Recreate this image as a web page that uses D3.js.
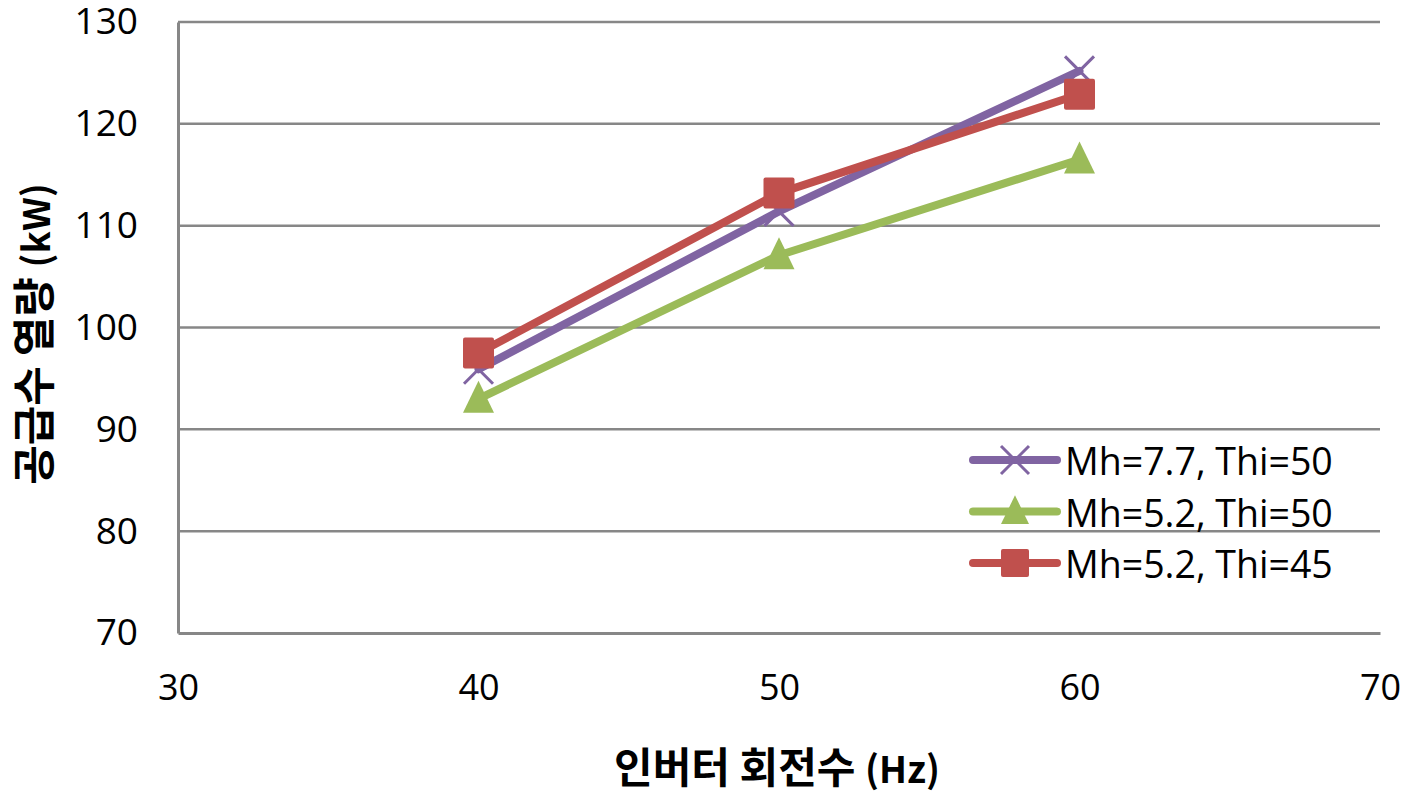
<!DOCTYPE html>
<html>
<head>
<meta charset="utf-8">
<script src="https://cdn.jsdelivr.net/npm/d3@7"></script>
<style>
  body { margin: 0; background: #fff; }
  svg { display: block; }
</style>
</head>
<body>
<div id="chart"></div>
<script>
// data
var hz = [40, 50, 60];
var mh77thi50 = [95.9, 111.4, 125.2];
var mh52thi50 = [93.0, 107.1, 116.5];
var mh52thi45 = [97.5, 113.2, 122.9];
var seriesNames = ['Mh=7.7, Thi=50', 'Mh=5.2, Thi=50', 'Mh=5.2, Thi=45'];
var xTicks = [30, 40, 50, 60, 70];
var yTicks = [70, 80, 90, 100, 110, 120, 130];

var W = 1403, H = 800;
var margin = {top: 22, right: 23, bottom: 167, left: 178};
var width = W - margin.left - margin.right,
    height = H - margin.top - margin.bottom;

var svg = d3.select('#chart').append('svg')
    .attr('width', W)
    .attr('height', H);

var g = svg.append('g')
    .attr('transform', 'translate(' + margin.left + ',' + margin.top + ')');

var x = d3.scaleLinear().domain([30, 70]).range([0, width]);
var y = d3.scaleLinear().domain([70, 130]).range([height, 0]);

// gridlines
g.selectAll('.grid')
    .data(yTicks.slice(1))
    .enter().append('line')
    .attr('x1', 0).attr('x2', width)
    .attr('y1', function(d) { return y(d); })
    .attr('y2', function(d) { return y(d); })
    .attr('stroke', '#878787')
    .attr('stroke-width', 2.5);

// axes
var yAxis = g.append('g')
    .call(d3.axisLeft(y).tickValues(yTicks).tickSize(0).tickPadding(40));
yAxis.select('.domain').attr('stroke', '#878787').attr('stroke-width', 3);
yAxis.selectAll('text')
    .attr('font-family', 'Open Sans, Noto Sans, sans-serif')
    .attr('font-size', '37px')
    .attr('fill', '#000');

var xAxis = g.append('g')
    .attr('transform', 'translate(0,' + height + ')')
    .call(d3.axisBottom(x).tickValues(xTicks).tickSize(0).tickPadding(41));
xAxis.select('.domain').attr('stroke', '#878787').attr('stroke-width', 3);
xAxis.selectAll('text')
    .attr('font-family', 'Open Sans, Noto Sans, sans-serif')
    .attr('font-size', '36px')
    .attr('fill', '#000');

// axis titles
var yTitle = svg.append('text')
    .attr('transform', 'translate(50,334) rotate(-90)')
    .attr('text-anchor', 'middle')
    .attr('font-family', 'Noto Sans CJK KR, sans-serif')
    .attr('font-weight', 'bold')
    .attr('font-size', '43px');
yTitle.append('tspan').text('공급수 열량 ');
yTitle.append('tspan').attr('font-size', '37px').text('(kW)');

var xTitle = svg.append('text')
    .attr('x', 777)
    .attr('y', 783)
    .attr('text-anchor', 'middle')
    .attr('font-family', 'Noto Sans CJK KR, sans-serif')
    .attr('font-weight', 'bold')
    .attr('font-size', '42px');
xTitle.append('tspan').text('인버터 회전수 ');
xTitle.append('tspan').attr('font-size', '37px').text('(Hz)');

var series = [
  {name: seriesNames[0], values: mh77thi50, color: '#8064A2', marker: 'x'},
  {name: seriesNames[1], values: mh52thi50, color: '#9BBB59', marker: 'triangle'},
  {name: seriesNames[2], values: mh52thi45, color: '#C0504D', marker: 'square'}
];

var line = d3.line()
    .x(function(d) { return x(d.x); })
    .y(function(d) { return y(d.y); });

function drawMarker(sel, type, color, s) {
  if (type === 'x') {
    sel.append('path')
        .attr('d', 'M' + (-s / 2) + ',' + (-s / 2) + 'L' + (s / 2) + ',' + (s / 2) +
                   'M' + (-s / 2) + ',' + (s / 2) + 'L' + (s / 2) + ',' + (-s / 2))
        .attr('stroke', color)
        .attr('stroke-width', 3)
        .attr('fill', 'none');
  } else if (type === 'triangle') {
    sel.append('path')
        .attr('d', 'M0,' + (-s * 0.58) + 'L' + (s / 2) + ',' + (s * 0.45) +
                   'L' + (-s / 2) + ',' + (s * 0.45) + 'Z')
        .attr('fill', color);
  } else {
    sel.append('rect')
        .attr('x', -s / 2).attr('y', -s / 2)
        .attr('width', s).attr('height', s)
        .attr('rx', 2)
        .attr('fill', color);
  }
}

series.forEach(function(s) {
  var pts = hz.map(function(h, i) { return {x: h, y: s.values[i]}; });
  g.append('path')
      .datum(pts)
      .attr('d', line)
      .attr('fill', 'none')
      .attr('stroke', s.color)
      .attr('stroke-width', 8)
      .attr('stroke-linejoin', 'round')
      .attr('stroke-linecap', 'round');
  pts.forEach(function(p) {
    var m = g.append('g')
        .attr('transform', 'translate(' + x(p.x) + ',' + y(p.y) + ')');
    drawMarker(m, s.marker, s.color, s.marker === 'x' ? 29 : 31);
  });
});

// legend
var legend = svg.append('g').attr('transform', 'translate(973,460)');
series.forEach(function(s, i) {
  var row = legend.append('g').attr('transform', 'translate(0,' + (i * 51.5) + ')');
  row.append('line')
      .attr('x1', 0).attr('x2', 84)
      .attr('stroke', s.color)
      .attr('stroke-width', 8)
      .attr('stroke-linecap', 'round');
  var m = row.append('g').attr('transform', 'translate(42,0)');
  drawMarker(m, s.marker, s.color, 28);
  row.append('text')
      .attr('x', 92)
      .attr('y', 15)
      .attr('font-family', 'Open Sans, Noto Sans, sans-serif')
      .attr('font-size', '37.5px')
      .attr('fill', '#000')
      .text(s.name);
});
</script>
</body>
</html>
